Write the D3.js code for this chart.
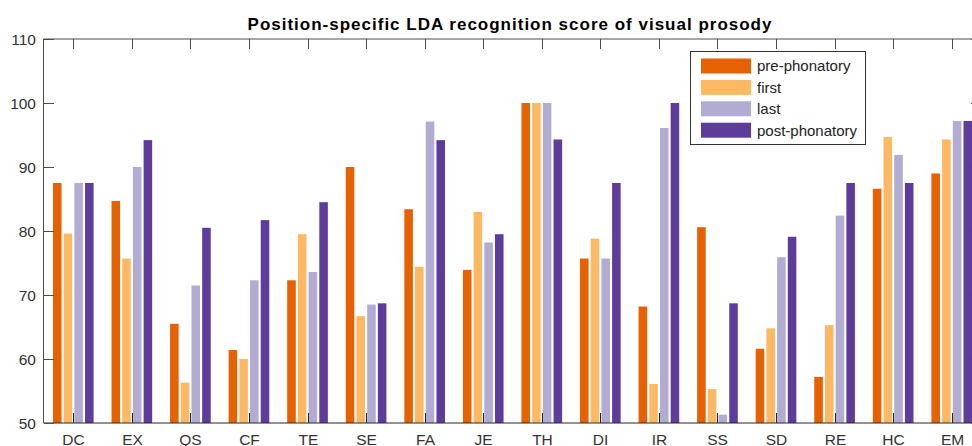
<!DOCTYPE html>
<html><head><meta charset="utf-8">
<script src="https://cdn.jsdelivr.net/npm/d3@7"></script>
<style>body{margin:0;background:#fff}svg{display:block}text{font-family:"Liberation Sans",Arial,sans-serif}</style>
</head><body>
<svg id="c" width="972" height="446"></svg>
<script>
const categories = ["DC","EX","QS","CF","TE","SE","FA","JE","TH","DI","IR","SS","SD","RE","HC","EM"];
const seriesNames = ["pre-phonatory","first","last","post-phonatory"];
const seriesColors = ["#e66101","#fdb863","#b2abd2","#5e3c99"];
const prePhonatory  = [87.5,84.7,65.5,61.4,72.3,90.0,83.4,73.9,100,75.7,68.2,80.6,61.6,57.2,86.6,89.0];
const first         = [79.6,75.7,56.3,60.0,79.5,66.7,74.4,83.0,100,78.8,56.1,55.3,64.8,65.3,94.7,94.3];
const last          = [87.5,90.0,71.5,72.3,73.6,68.5,97.1,78.2,100,75.7,96.1,51.3,75.9,82.4,91.9,97.2];
const postPhonatory = [87.5,94.2,80.5,81.7,84.5,68.7,94.2,79.5,94.3,87.5,100,68.7,79.1,87.5,87.5,97.2];
const yTicks = [50,60,70,80,90,100,110];
const title = "Position-specific LDA recognition score of visual prosody";

const seriesValues = [prePhonatory, first, last, postPhonatory];
const svg = d3.select("#c");
const L = 44, R = 981, T = 39, B = 423;
const x = d3.scaleBand().domain(categories).range([L, R]).padding(0);
const y = d3.scaleLinear().domain([50, 110]).range([B, T]);
const groupW = x.bandwidth() * 0.694;
const xs = d3.scaleBand().domain(d3.range(4)).range([-groupW/2, groupW/2]).paddingInner(0.2);

// bars
seriesValues.forEach((vals, s) => {
  svg.append("g").selectAll("rect").data(vals).join("rect")
    .attr("x", (d, i) => x(categories[i]) + x.bandwidth()/2 + xs(s))
    .attr("width", xs.bandwidth())
    .attr("y", d => y(d))
    .attr("height", d => y(50) - y(d))
    .attr("fill", seriesColors[s]);
});

const axCol = "#4d4d4d";
const g = svg.append("g");
// box
g.append("line").attr("x1", L-0.5).attr("x2", R).attr("y1", T).attr("y2", T).attr("stroke", axCol);
g.append("line").attr("x1", L-0.5).attr("x2", R).attr("y1", B).attr("y2", B).attr("stroke", "#262626");
g.append("line").attr("x1", L-0.5).attr("x2", L-0.5).attr("y1", T).attr("y2", B).attr("stroke", axCol);
g.append("line").attr("x1", R).attr("x2", R).attr("y1", T).attr("y2", B).attr("stroke", axCol);

// x ticks (top and bottom, inward)
categories.forEach(c => {
  const cx = Math.round(x(c) + x.bandwidth()/2) + 0.5;
  g.append("line").attr("x1", cx).attr("x2", cx).attr("y1", T).attr("y2", T+10).attr("stroke", axCol);
  g.append("line").attr("x1", cx).attr("x2", cx).attr("y1", B).attr("y2", B-10).attr("stroke", "#262626");
  g.append("text").attr("x", cx).attr("y", 445).attr("text-anchor", "middle")
    .attr("font-size", 15.5).attr("fill", "#333").text(c);
});
// y ticks
yTicks.forEach(t => {
  const cy = Math.round(y(t)) + 0.5;
  g.append("line").attr("x1", L).attr("x2", L+10).attr("y1", cy).attr("y2", cy).attr("stroke", axCol);
  g.append("line").attr("x1", R).attr("x2", R-10).attr("y1", cy).attr("y2", cy).attr("stroke", axCol);
  g.append("text").attr("x", 36).attr("y", cy).attr("dy", "0.36em").attr("text-anchor", "end")
    .attr("font-size", 15.5).attr("fill", "#333").text(t);
});

// title
svg.append("text").attr("x", 510).attr("y", 30).attr("text-anchor", "middle")
  .attr("font-size", 17).attr("font-weight", "bold").attr("letter-spacing", 1)
  .attr("fill", "#000").text(title);

// legend
const lg = svg.append("g");
lg.append("rect").attr("x", 690.5).attr("y", 51.5).attr("width", 175).attr("height", 93)
  .attr("fill", "#fff").attr("stroke", "#333");
seriesNames.forEach((n, i) => {
  const cy = 66 + i * 21.4;
  lg.append("rect").attr("x", 701).attr("y", cy - 7.5).attr("width", 50).attr("height", 15).attr("fill", seriesColors[i]);
  lg.append("text").attr("x", 757).attr("y", cy).attr("dy", "0.36em").attr("font-size", 15).attr("fill", "#222").text(n);
});
</script>
</body></html>
